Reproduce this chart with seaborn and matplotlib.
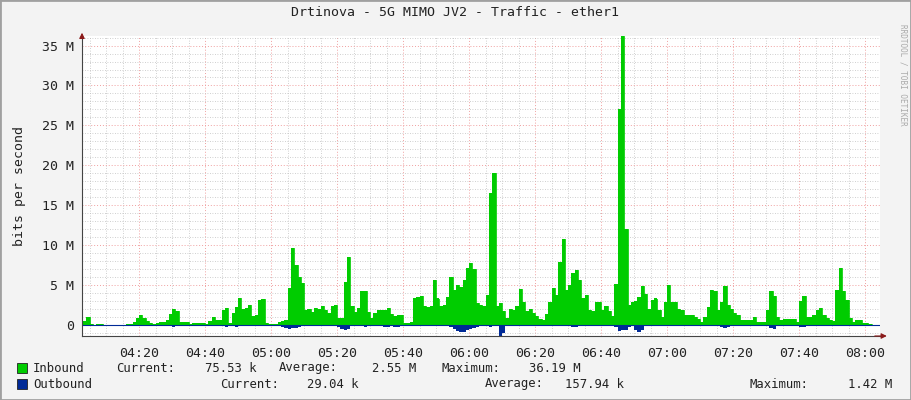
import numpy as np
import pandas as pd
import matplotlib
matplotlib.use("Agg")
import matplotlib.pyplot as plt
import matplotlib.dates as mdates
from matplotlib.ticker import MultipleLocator, FuncFormatter
import seaborn as sns

# =========================
# Data (one sample per minute, 04:03 .. 08:02), values in Mbit/s
# =========================
start_time = "2024-01-01 04:03"

inbound = [
    0.5, 1.0, 0.1, 0, 0.1, 0.1, 0.03, 0.03, 0.03, 0.03,
    0.03, 0.03, 0.03, 0.05, 0.1, 0.4, 0.9, 1.2, 0.9, 0.5,
    0.2, 0.05, 0.2, 0.3, 0.4, 0.6, 1.4, 2.0, 1.7, 0.4,
    0.3, 0.3, 0.15, 0.2, 0.2, 0.2, 0.2, 0.15, 0.5, 1.0,
    0.6, 0.6, 1.9, 2.1, 0.2, 1.5, 2.2, 3.4, 2.0, 2.1,
    2.5, 1.1, 1.2, 3.1, 3.2, 0.2, 0.1, 0.1, 0.1, 0.3,
    0.5, 0.6, 4.6, 9.6, 7.5, 6.0, 5.2, 1.8, 2.0, 1.6,
    2.1, 2.0, 2.3, 1.9, 1.5, 2.3, 2.5, 0.8, 0.9, 5.4,
    8.5, 2.3, 1.6, 2.1, 4.2, 4.2, 1.6, 0.9, 1.5, 1.8,
    1.9, 1.8, 2.1, 1.3, 1.1, 1.2, 1.25, 0.2, 0.2, 0.3,
    3.3, 3.5, 3.6, 2.3, 2.2, 2.3, 5.6, 3.3, 2.3, 2.5,
    3.5, 6.0, 4.4, 5.0, 4.8, 5.6, 7.1, 7.7, 7.0, 2.7,
    2.5, 2.3, 3.75, 16.5, 19.0, 2.4, 2.7, 1.7, 0.8, 2.0,
    1.9, 2.4, 4.5, 2.9, 1.7, 2.0, 1.5, 1.1, 0.7, 0.6,
    1.4, 2.9, 4.6, 3.8, 7.9, 10.8, 4.4, 5.0, 6.5, 6.9,
    5.6, 3.3, 3.75, 1.9, 1.7, 2.8, 2.9, 1.9, 2.3, 1.7,
    1.1, 5.1, 27.0, 36.2, 12.0, 2.5, 2.9, 3.0, 3.5, 4.9,
    3.9, 2.0, 3.1, 3.3, 1.9, 1.0, 2.9, 5.0, 2.9, 2.8,
    2.0, 1.8, 1.25, 1.25, 1.25, 1.0, 0.7, 0.4, 1.0, 2.2,
    4.4, 4.3, 1.9, 2.9, 4.9, 2.5, 2.0, 1.5, 1.25, 0.6,
    0.6, 0.6, 0.6, 1.0, 0.4, 0.4, 0.4, 1.9, 4.2, 3.6,
    1.0, 0.6, 0.75, 0.75, 0.75, 0.75, 0.4, 3.0, 3.6, 1.0,
    1.0, 1.25, 1.9, 2.1, 1.25, 0.8, 0.6, 0.5, 4.4, 7.1,
    4.2, 3.1, 0.8, 0.4, 0.6, 0.6, 0.2, 0.17, 0.1, 0.08,
]

outbound = [
    0.05, 0.1, 0, 0, 0, 0, 0, 0, 0, 0,
    0, 0, 0, 0, 0, 0.05, 0.1, 0.2, 0.15, 0.05,
    0, 0, 0.05, 0.1, 0.1, 0.15, 0.2, 0.25, 0.2, 0.05,
    0.05, 0, 0, 0, 0.05, 0, 0, 0.05, 0.15, 0.2,
    0.2, 0.15, 0.2, 0.25, 0.05, 0.2, 0.3, 0.2, 0.15, 0.1,
    0.15, 0.1, 0.1, 0.15, 0.15, 0.05, 0, 0, 0.05, 0.1,
    0.3, 0.45, 0.5, 0.4, 0.35, 0.3, 0.2, 0.1, 0.1, 0.1,
    0.1, 0.1, 0.1, 0.1, 0.1, 0.1, 0.15, 0.3, 0.5, 0.7,
    0.5, 0.2, 0.1, 0.15, 0.2, 0.25, 0.2, 0.1, 0.1, 0.1,
    0.2, 0.3, 0.3, 0.15, 0.3, 0.3, 0.2, 0.1, 0.05, 0.05,
    0.2, 0.2, 0.1, 0.1, 0.1, 0.2, 0.15, 0.1, 0.1, 0.1,
    0.2, 0.3, 0.5, 0.8, 0.9, 0.9, 0.6, 0.5, 0.4, 0.3,
    0.2, 0.2, 0.2, 0.25, 0.2, 0.1, 1.4, 1.0, 0.1, 0.05,
    0.05, 0.1, 0.2, 0.1, 0.05, 0.15, 0.05, 0.15, 0.05, 0.05,
    0.05, 0.1, 0.1, 0.05, 0.15, 0.2, 0.15, 0.2, 0.3, 0.3,
    0.2, 0.1, 0.05, 0.05, 0.05, 0.05, 0.05, 0.05, 0.05, 0.05,
    0.05, 0.3, 0.8, 0.7, 0.6, 0.3, 0.1, 0.6, 0.9, 0.6,
    0.2, 0.05, 0.05, 0.05, 0.05, 0.05, 0.05, 0.1, 0.1, 0.05,
    0.05, 0.05, 0.05, 0.05, 0.05, 0.05, 0.05, 0.05, 0.05, 0.1,
    0.2, 0.2, 0.2, 0.3, 0.4, 0.3, 0.1, 0.05, 0.05, 0.05,
    0.05, 0.05, 0.05, 0.05, 0.05, 0.05, 0.1, 0.2, 0.4, 0.5,
    0.2, 0.05, 0.05, 0.05, 0.05, 0.05, 0.05, 0.3, 0.3, 0.2,
    0.05, 0.1, 0.2, 0.2, 0.1, 0.05, 0.05, 0.05, 0.05, 0.05,
    0.05, 0.05, 0.05, 0.05, 0.05, 0.05, 0.05, 0.03, 0.03, 0.03,
]

legend_rows = [
    ("Inbound", "#00CC00", [("Current:", 116), ("75.53 k", 205), ("Average:", 279),
                            ("2.55 M", 372), ("Maximum:", 441), ("36.19 M", 529)]),
    ("Outbound", "#002A97", [("Current:", 220), ("29.04 k", 307), ("Average:", 485),
                             ("157.94 k", 565), ("Maximum:", 750), ("1.42 M", 848)]),
]

times = pd.date_range(start_time, periods=len(inbound), freq="1min")
df = pd.DataFrame({"time": times,
                   "inbound": np.array(inbound) * 1e6,
                   "outbound": -np.array(outbound) * 1e6})

# =========================
# Figure
# =========================
sns.set_style("white")
plt.rcParams["font.family"] = ["DejaVu Sans Mono"]
W, H = 911, 400
fig = plt.figure(figsize=(W / 100, H / 100), dpi=100, facecolor="#F3F3F3")
ax = fig.add_axes([82 / W, 1 - 336 / H, (880 - 82) / W, (336 - 36) / H])
ax.set_facecolor("white")

ax.fill_between(df["time"], df["inbound"], 0, step="post", color="#00CC00", lw=0)
ax.fill_between(df["time"], df["outbound"], 0, step="post", color="#002A97", lw=0)
sns.lineplot(data=df, x="time", y="inbound", ax=ax, color="#00CC00", lw=0.6,
             drawstyle="steps-post")
ax.axhline(0, color="#002A97", lw=0.8)

ax.set_xlim(pd.Timestamp("2024-01-01 04:02:40"), pd.Timestamp("2024-01-01 08:04:30"))
ax.set_ylim(-1.4e6, 36.2e6)

ax.xaxis.set_major_locator(mdates.MinuteLocator(byminute=[0, 20, 40]))
ax.xaxis.set_minor_locator(mdates.MinuteLocator(byminute=range(0, 60, 5)))
ax.xaxis.set_major_formatter(mdates.DateFormatter("%H:%M"))
ax.yaxis.set_major_locator(MultipleLocator(5e6))
ax.yaxis.set_minor_locator(MultipleLocator(1e6))
ax.yaxis.set_major_formatter(FuncFormatter(lambda v, p: "0" if v == 0 else f"{v / 1e6:.0f} M"))

ax.grid(which="minor", color="#C0C0C0", ls=(0, (1, 2)), lw=0.6)
ax.grid(which="major", color="#F0A0A0", ls=(0, (1, 2)), lw=0.7)
ax.set_axisbelow(True)
for s in ["top", "right"]:
    ax.spines[s].set_visible(False)
for s in ["left", "bottom"]:
    ax.spines[s].set_color("#444444")
    ax.spines[s].set_linewidth(0.8)
ax.tick_params(axis="both", which="both", length=2, color="#444444",
               labelsize=9.5, labelcolor="#222222", direction="out")
ax.tick_params(axis="x", pad=6)
ax.set_xlabel("")
ax.set_ylabel("bits per second", fontsize=9.5, color="#222222", labelpad=12)

# axis arrows
ax.annotate("", xy=(1.012, 0), xycoords="axes fraction", xytext=(0.99, 0),
            arrowprops=dict(arrowstyle="-|>", color="#8B1A1A", lw=0.8, mutation_scale=8))
ax.annotate("", xy=(0, 1.02), xycoords="axes fraction", xytext=(0, 0.99),
            arrowprops=dict(arrowstyle="-|>", color="#8B1A1A", lw=0.8, mutation_scale=8))

fig.text(455 / W, 1 - 13 / H, "Drtinova - 5G MIMO JV2 - Traffic - ether1",
         ha="center", va="center", fontsize=9.5, color="#222222")
fig.text(903 / W, 1 - 75 / H, "RRDTOOL / TOBI OETIKER", rotation=270,
         ha="center", va="center", fontsize=5.5, color="#AAAAAA")

# legend rows
for i, (name, color, items) in enumerate(legend_rows):
    yy = 1 - (368 + 16 * i) / H
    fig.patches.append(plt.Rectangle((17 / W, yy - 5 / H), 10 / W, 10 / H,
                                     transform=fig.transFigure, facecolor=color,
                                     edgecolor="#222222", lw=0.6))
    fig.text(33 / W, yy, name, va="center", fontsize=8.8, color="#222222")
    for txt, xp in items:
        fig.text(xp / W, yy, txt, va="center", fontsize=8.8, color="#222222")

# frame shade
fig.patches.append(plt.Rectangle((0, 0), 1, 1, transform=fig.transFigure,
                                 fill=False, edgecolor="#A0A0A0", lw=2))

fig.savefig("out.png", dpi=100, facecolor=fig.get_facecolor())
